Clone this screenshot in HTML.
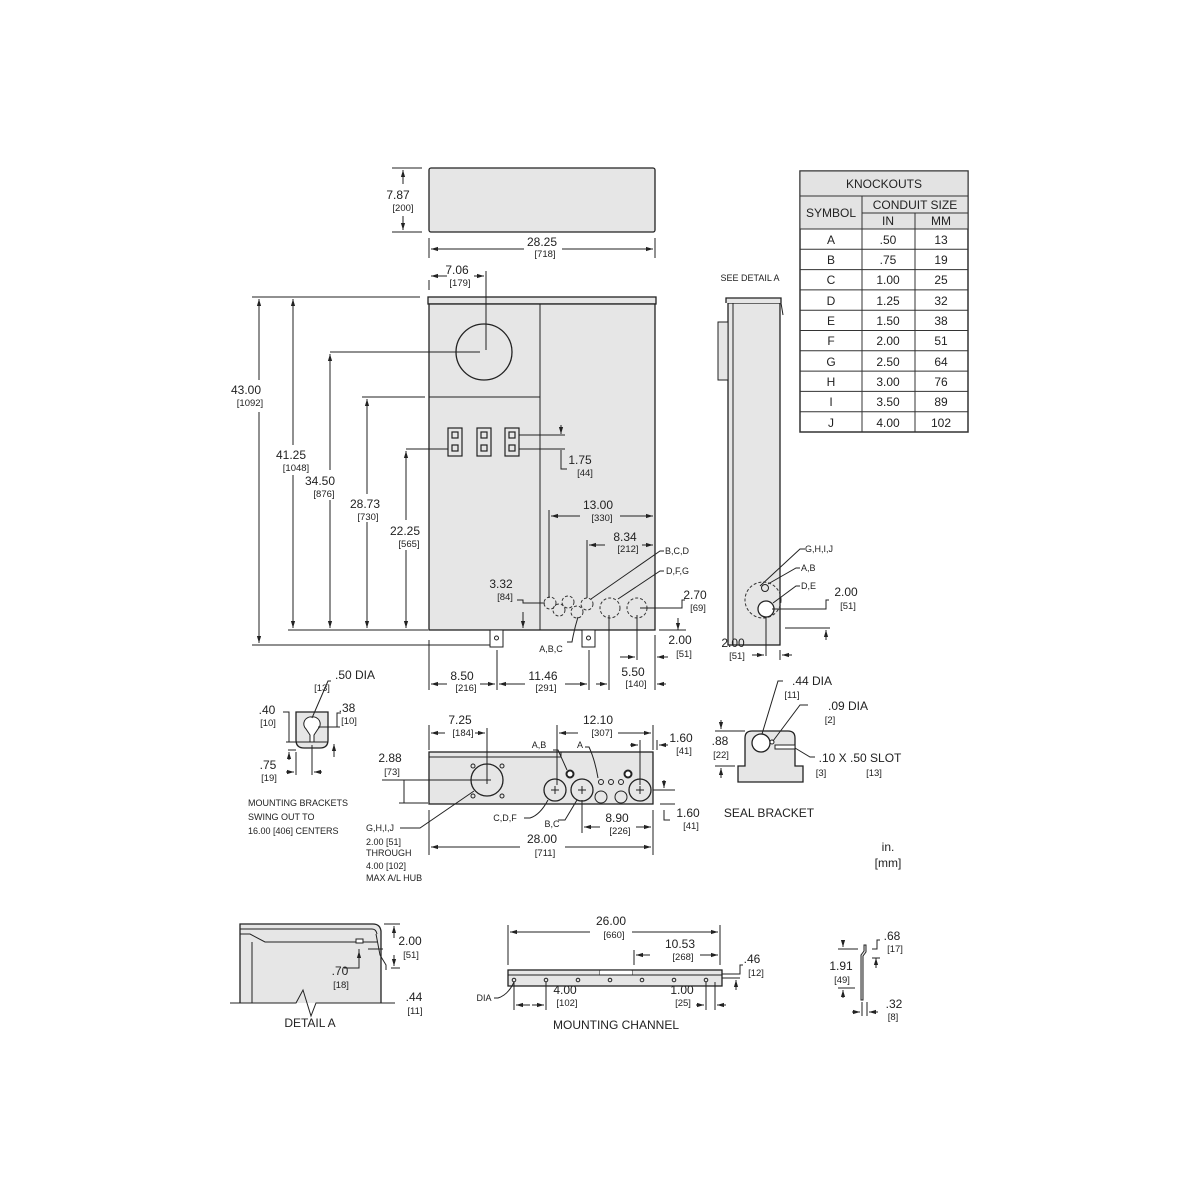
<!DOCTYPE html>
<html><head><meta charset="utf-8"><style>
html,body{margin:0;padding:0;background:#fff}
svg{display:block}
text{font-family:"Liberation Sans",sans-serif;fill:#222}
.d{font-size:12px}.m{font-size:9.5px}.s{font-size:9px}
.l{stroke:#222;stroke-width:1;fill:none}
.f{fill:#e6e6e6;stroke:#222;stroke-width:1.3}
.dash{fill:none;stroke:#333;stroke-width:1;stroke-dasharray:3,2}
</style></head><body>
<svg width="1200" height="1200" viewBox="0 0 1200 1200" xmlns="http://www.w3.org/2000/svg">
<defs>
<marker id="a" viewBox="0 0 10 10" refX="10" refY="5" markerWidth="7" markerHeight="7" orient="auto-start-reverse"><path d="M0,2 L10,5 L0,8z" fill="#222"/></marker>
</defs>
<g text-anchor="middle">

<!-- TOP VIEW -->
<rect class="f" x="429" y="168" width="226" height="64" rx="2"/>
<path class="l" d="M392,168H422M392,232H422"/>
<line class="l" x1="403" y1="170" x2="403" y2="184" marker-start="url(#a)"/>
<line class="l" x1="403" y1="216" x2="403" y2="230" marker-end="url(#a)"/>
<text class="d" x="398" y="199">7.87</text><text class="m" x="403" y="211">[200]</text>
<path class="l" d="M429,238V258M655,238V258"/>
<line class="l" x1="524" y1="249" x2="431" y2="249" marker-end="url(#a)"/>
<line class="l" x1="562" y1="249" x2="653" y2="249" marker-end="url(#a)"/>
<text class="d" x="542" y="246">28.25</text><text class="m" x="545" y="257">[718]</text>

<!-- FRONT VIEW -->
<rect class="f" x="428" y="297" width="228" height="7"/>
<rect class="f" x="429" y="304" width="226" height="326"/>
<path class="l" d="M540,304V630M429,397H540"/>
<circle cx="484" cy="352" r="28" fill="none" stroke="#222" stroke-width="1.3"/>
<path class="l" d="M486,271V350M330,352H480"/>
<line class="l" x1="447" y1="276" x2="431" y2="276" marker-end="url(#a)"/>
<line class="l" x1="474" y1="276" x2="484" y2="276" marker-end="url(#a)"/>
<path class="l" d="M429,280V290"/>
<text class="d" x="457" y="274">7.06</text><text class="m" x="460" y="286">[179]</text>
<g fill="none" stroke="#222" stroke-width="1.2">
<rect x="448" y="428" width="14" height="28"/><rect x="477" y="428" width="14" height="28"/><rect x="505" y="428" width="14" height="28"/>
<rect x="452" y="432" width="6" height="6"/><rect x="452" y="445" width="6" height="6"/>
<rect x="481" y="432" width="6" height="6"/><rect x="481" y="445" width="6" height="6"/>
<rect x="509" y="432" width="6" height="6"/><rect x="509" y="445" width="6" height="6"/>
</g>
<path class="l" d="M519,435H565M519,449H565M406,449H448"/>
<line class="l" x1="561" y1="425" x2="561" y2="434" marker-end="url(#a)"/>
<path class="l" d="M561,450V469H567"/>
<text class="d" x="580" y="464">1.75</text><text class="m" x="585" y="476">[44]</text>
<path class="l" d="M252,297H420M252,645H492M288,630H428M362,397H425"/>
<line class="l" x1="259" y1="380" x2="259" y2="299" marker-end="url(#a)"/>
<line class="l" x1="259" y1="412" x2="259" y2="643" marker-end="url(#a)"/>
<text class="d" x="246" y="394">43.00</text><text class="m" x="250" y="406">[1092]</text>
<line class="l" x1="293" y1="445" x2="293" y2="299" marker-end="url(#a)"/>
<line class="l" x1="293" y1="475" x2="293" y2="628" marker-end="url(#a)"/>
<text class="d" x="291" y="459">41.25</text><text class="m" x="296" y="471">[1048]</text>
<line class="l" x1="330" y1="470" x2="330" y2="354" marker-end="url(#a)"/>
<line class="l" x1="330" y1="500" x2="330" y2="628" marker-end="url(#a)"/>
<text class="d" x="320" y="485">34.50</text><text class="m" x="324" y="497">[876]</text>
<line class="l" x1="367" y1="494" x2="367" y2="399" marker-end="url(#a)"/>
<line class="l" x1="367" y1="522" x2="367" y2="628" marker-end="url(#a)"/>
<text class="d" x="365" y="508">28.73</text><text class="m" x="368" y="520">[730]</text>
<line class="l" x1="406" y1="520" x2="406" y2="451" marker-end="url(#a)"/>
<line class="l" x1="406" y1="550" x2="406" y2="628" marker-end="url(#a)"/>
<text class="d" x="405" y="535">22.25</text><text class="m" x="409" y="547">[565]</text>
<circle class="dash" cx="550" cy="603" r="6"/><circle class="dash" cx="559" cy="610" r="6"/>
<circle class="dash" cx="568" cy="602" r="6"/><circle class="dash" cx="577" cy="612" r="6"/>
<circle class="dash" cx="587" cy="604" r="6"/><circle class="dash" cx="610" cy="608" r="10"/>
<circle class="dash" cx="637" cy="608" r="10"/>
<path class="l" d="M549,510V598M587,540V598"/>
<line class="l" x1="580" y1="516" x2="551" y2="516" marker-end="url(#a)"/>
<line class="l" x1="620" y1="516" x2="653" y2="516" marker-end="url(#a)"/>
<text class="d" x="598" y="509">13.00</text><text class="m" x="602" y="521">[330]</text>
<line class="l" x1="605" y1="545" x2="589" y2="545" marker-end="url(#a)"/>
<line class="l" x1="642" y1="545" x2="653" y2="545" marker-end="url(#a)"/>
<text class="d" x="625" y="541">8.34</text><text class="m" x="628" y="552">[212]</text>
<path class="l" d="M591,599L660,551H664M618,599L660,571H664"/>
<text class="s" x="665" y="554" text-anchor="start">B,C,D</text>
<text class="s" x="666" y="574" text-anchor="start">D,F,G</text>
<path class="l" d="M578,617Q574,630 572,642H567"/>
<text class="s" x="551" y="652">A,B,C</text>
<path class="l" d="M517,600H523V603H545"/>
<line class="l" x1="523" y1="612" x2="523" y2="628" marker-end="url(#a)"/>
<text class="d" x="501" y="588">3.32</text><text class="m" x="505" y="600">[84]</text>
<path class="l" d="M640,608H682V600H685M659,630H686"/>
<line class="l" x1="678" y1="618" x2="678" y2="630" marker-end="url(#a)"/>
<text class="d" x="695" y="599">2.70</text><text class="m" x="698" y="611">[69]</text>
<rect x="490" y="630" width="13" height="17" fill="#fff" stroke="#222"/><circle cx="496.5" cy="638" r="2" fill="none" stroke="#222"/>
<rect x="582" y="630" width="13" height="17" fill="#fff" stroke="#222"/><circle cx="588.5" cy="638" r="2" fill="none" stroke="#222"/>
<path class="l" d="M429,640V690M497,650V690M589,650V690M609,615V690M637,615V660M655,635V690"/>
<line class="l" x1="620" y1="657" x2="635" y2="657" marker-end="url(#a)"/>
<line class="l" x1="668" y1="657" x2="657" y2="657" marker-end="url(#a)"/>
<text class="d" x="680" y="644">2.00</text><text class="m" x="684" y="657">[51]</text>
<line class="l" x1="447" y1="684" x2="431" y2="684" marker-end="url(#a)"/>
<line class="l" x1="480" y1="684" x2="495" y2="684" marker-end="url(#a)"/>
<text class="d" x="462" y="680">8.50</text><text class="m" x="466" y="691">[216]</text>
<line class="l" x1="525" y1="684" x2="499" y2="684" marker-end="url(#a)"/>
<line class="l" x1="565" y1="684" x2="587" y2="684" marker-end="url(#a)"/>
<text class="d" x="543" y="680">11.46</text><text class="m" x="546" y="691">[291]</text>
<line class="l" x1="596" y1="684" x2="607" y2="684" marker-end="url(#a)"/>
<line class="l" x1="666" y1="684" x2="657" y2="684" marker-end="url(#a)"/>
<text class="d" x="633" y="676">5.50</text><text class="m" x="636" y="687">[140]</text>

<!-- SIDE VIEW -->
<text class="s" x="750" y="281">SEE DETAIL A</text>
<rect class="f" x="728" y="303" width="52" height="342"/>
<path class="l" d="M733,303V645"/>
<path d="M726,303V298H781V303" fill="#e6e6e6" stroke="#222" stroke-width="1.3"/>
<path class="l" d="M781,303L783,315"/>
<rect x="718" y="322" width="10" height="58" fill="#e6e6e6" stroke="#222"/>
<circle class="dash" cx="763" cy="600" r="18"/>
<circle cx="765" cy="588" r="3.5" fill="none" stroke="#222"/>
<circle cx="766" cy="609" r="8" fill="#fff" stroke="#222" stroke-width="1.3"/>
<path class="l" d="M760,586L800,549H805M768,584L796,568H800M773,603L796,586H800"/>
<text class="s" x="805" y="552" text-anchor="start">G,H,I,J</text>
<text class="s" x="801" y="571" text-anchor="start">A,B</text>
<text class="s" x="801" y="589" text-anchor="start">D,E</text>
<path class="l" d="M772,609H826V600H829M785,628H830"/>
<line class="l" x1="826" y1="640" x2="826" y2="630" marker-end="url(#a)"/>
<text class="d" x="846" y="596">2.00</text><text class="m" x="848" y="609">[51]</text>
<path class="l" d="M766,617V656M780,650V660"/>
<line class="l" x1="752" y1="655" x2="764" y2="655" marker-end="url(#a)"/>
<line class="l" x1="792" y1="655" x2="782" y2="655" marker-end="url(#a)"/>
<text class="d" x="733" y="647">2.00</text><text class="m" x="737" y="659">[51]</text>

<!-- TABLE -->
<g stroke="#333" stroke-width="1">
<rect x="800" y="171" width="168" height="261" fill="#fff" stroke-width="1.5"/>
<rect x="800" y="171" width="168" height="25" fill="#e3e3e3"/>
<rect x="800" y="196" width="62" height="33" fill="#e3e3e3"/>
<rect x="862" y="196" width="106" height="17" fill="#e3e3e3"/>
<rect x="862" y="213" width="106" height="16" fill="#e3e3e3"/>
<path d="M915,213V432M862,229V432M800,249.3H968M800,269.6H968M800,289.9H968M800,310.2H968M800,330.5H968M800,350.8H968M800,371.1H968M800,391.4H968M800,411.7H968" fill="none"/>
</g>
<text class="d" x="884" y="188">KNOCKOUTS</text>
<text class="d" x="831" y="217">SYMBOL</text>
<text class="d" x="915" y="209">CONDUIT  SIZE</text>
<text class="d" x="888" y="225">IN</text><text class="d" x="941" y="225">MM</text>
<g class="d">
<text x="831" y="244">A</text><text x="888" y="244">.50</text><text x="941" y="244">13</text>
<text x="831" y="264">B</text><text x="888" y="264">.75</text><text x="941" y="264">19</text>
<text x="831" y="284">C</text><text x="888" y="284">1.00</text><text x="941" y="284">25</text>
<text x="831" y="305">D</text><text x="888" y="305">1.25</text><text x="941" y="305">32</text>
<text x="831" y="325">E</text><text x="888" y="325">1.50</text><text x="941" y="325">38</text>
<text x="831" y="345">F</text><text x="888" y="345">2.00</text><text x="941" y="345">51</text>
<text x="831" y="366">G</text><text x="888" y="366">2.50</text><text x="941" y="366">64</text>
<text x="831" y="386">H</text><text x="888" y="386">3.00</text><text x="941" y="386">76</text>
<text x="831" y="406">I</text><text x="888" y="406">3.50</text><text x="941" y="406">89</text>
<text x="831" y="427">J</text><text x="888" y="427">4.00</text><text x="941" y="427">102</text>
</g>

<!-- KEYHOLE BRACKET -->
<path class="f" d="M296,712H328V740Q328,748 320,748H304Q296,748 296,740Z"/>
<path d="M312,717A7,7 0 0 1 318,729L314,735V742H310V735L306,729A7,7 0 0 1 312,717Z" fill="#fff" stroke="#222"/>
<path class="l" d="M312,718L328,681H331"/>
<text class="d" x="355" y="679">.50  DIA</text><text class="m" x="322" y="691">[13]</text>
<path class="l" d="M283,712H289V742M286,742H328M288,750H296"/>
<line class="l" x1="289" y1="760" x2="289" y2="752" marker-end="url(#a)"/>
<text class="d" x="267" y="714">.40</text><text class="m" x="268" y="726">[10]</text>
<path class="l" d="M341,713H337V727M318,727H340"/>
<line class="l" x1="334" y1="757" x2="334" y2="744" marker-end="url(#a)"/>
<text class="d" x="347" y="712">.38</text><text class="m" x="349" y="724">[10]</text>
<path class="l" d="M296,752V775M312,745V775"/>
<line class="l" x1="286" y1="772" x2="294" y2="772" marker-end="url(#a)"/>
<line class="l" x1="322" y1="772" x2="314" y2="772" marker-end="url(#a)"/>
<text class="d" x="268" y="769">.75</text><text class="m" x="269" y="781">[19]</text>
<g class="s" text-anchor="start">
<text x="248" y="806">MOUNTING BRACKETS</text><text x="248" y="820">SWING OUT TO</text><text x="248" y="834">16.00 [406] CENTERS</text>
</g>

<!-- BOTTOM VIEW -->
<rect class="f" x="429" y="752" width="224" height="52"/>
<path class="l" d="M429,757H561V752"/>
<circle cx="487" cy="780" r="16" fill="none" stroke="#222" stroke-width="1.3"/>
<path class="l" d="M483,780H491M487,776V784"/>
<g fill="none" stroke="#222"><circle cx="473" cy="766" r="2"/><circle cx="502" cy="766" r="2"/><circle cx="473" cy="796" r="2"/><circle cx="502" cy="796" r="2"/>
<circle cx="555" cy="790" r="11" stroke-width="1.3"/><circle cx="582" cy="790" r="11" stroke-width="1.3"/><circle cx="640" cy="790" r="11" stroke-width="1.3"/>
<circle cx="601" cy="782" r="2.5"/><circle cx="611" cy="782" r="2.5"/><circle cx="621" cy="782" r="2.5"/>
<circle cx="601" cy="797" r="6"/><circle cx="621" cy="797" r="6"/></g>
<path class="l" d="M551,790H559M555,786V794M578,790H586M582,786V794M636,790H644M640,786V794"/>
<circle cx="570" cy="774" r="3.5" fill="#fff" stroke="#222" stroke-width="2"/>
<circle cx="628" cy="774" r="3.5" fill="#fff" stroke="#222" stroke-width="2"/>
<path class="l" d="M429,725V750M487,728V780M557,725V785M653,725V750M640,740V785M657,740V750"/>
<line class="l" x1="445" y1="733" x2="431" y2="733" marker-end="url(#a)"/>
<line class="l" x1="475" y1="733" x2="485" y2="733" marker-end="url(#a)"/>
<text class="d" x="460" y="724">7.25</text><text class="m" x="463" y="736">[184]</text>
<line class="l" x1="578" y1="733" x2="559" y2="733" marker-end="url(#a)"/>
<line class="l" x1="618" y1="733" x2="651" y2="733" marker-end="url(#a)"/>
<text class="d" x="598" y="724">12.10</text><text class="m" x="602" y="736">[307]</text>
<line class="l" x1="630" y1="745" x2="638" y2="745" marker-end="url(#a)"/>
<line class="l" x1="668" y1="745" x2="659" y2="745" marker-end="url(#a)"/>
<text class="d" x="681" y="742">1.60</text><text class="m" x="684" y="754">[41]</text>
<path class="l" d="M567,770L558,750H553M598,778Q595,760 589,747H585"/>
<text class="s" x="539" y="748">A,B</text><text class="s" x="580" y="748">A</text>
<path class="l" d="M382,780H485M398,780H404V803M399,803H428"/>
<text class="d" x="390" y="762">2.88</text><text class="m" x="392" y="775">[73]</text>
<path class="l" d="M548,800Q540,815 530,818H524M577,800L565,820H558M474,791L420,828H400"/>
<text class="s" x="505" y="821">C,D,F</text><text class="s" x="552" y="827">B,C</text>
<path class="l" d="M653,790H675M660,804H675M664,810V820H670"/>
<line class="l" x1="664" y1="780" x2="664" y2="788" marker-end="url(#a)"/>
<text class="d" x="688" y="817">1.60</text><text class="m" x="691" y="829">[41]</text>
<path class="l" d="M582,800V833M653,810V855M429,810V855"/>
<line class="l" x1="600" y1="827" x2="584" y2="827" marker-end="url(#a)"/>
<line class="l" x1="636" y1="827" x2="651" y2="827" marker-end="url(#a)"/>
<text class="d" x="617" y="822">8.90</text><text class="m" x="620" y="834">[226]</text>
<line class="l" x1="520" y1="847" x2="431" y2="847" marker-end="url(#a)"/>
<line class="l" x1="565" y1="847" x2="651" y2="847" marker-end="url(#a)"/>
<text class="d" x="542" y="843">28.00</text><text class="m" x="545" y="856">[711]</text>
<g class="s" text-anchor="start">
<text x="366" y="831">G,H,I,J</text><text x="366" y="845">2.00 [51]</text><text x="366" y="856">THROUGH</text><text x="366" y="869">4.00 [102]</text><text x="366" y="881">MAX A/L HUB</text>
</g>

<!-- SEAL BRACKET -->
<path class="f" d="M745,766V738Q745,731 752,731H788Q795,731 795,738V766H803V782H738V766Z"/>
<circle cx="761" cy="743" r="9" fill="#fff" stroke="#222" stroke-width="1.3"/>
<circle cx="772" cy="742" r="2" fill="#fff" stroke="#222"/>
<path d="M775,745H795V749H775Z" fill="#fff" stroke="#222"/>
<path class="l" d="M762,734L778,681H783M773,741L800,705H808M795,748L810,757H815"/>
<text class="d" x="812" y="685">.44  DIA</text><text class="m" x="792" y="698">[11]</text>
<text class="d" x="848" y="710">.09  DIA</text><text class="m" x="830" y="723">[2]</text>
<text class="d" x="860" y="762">.10  X  .50  SLOT</text><text class="m" x="821" y="776">[3]</text><text class="m" x="874" y="776">[13]</text>
<path class="l" d="M715,731H745M715,766H735"/>
<line class="l" x1="721" y1="720" x2="721" y2="729" marker-end="url(#a)"/>
<line class="l" x1="721" y1="778" x2="721" y2="768" marker-end="url(#a)"/>
<text class="d" x="720" y="745">.88</text><text class="m" x="721" y="758">[22]</text>
<text class="d" x="769" y="817">SEAL  BRACKET</text>
<text x="888" y="851" style="font-size:12px">in.</text>
<text x="888" y="867" style="font-size:12px">[mm]</text>

<!-- DETAIL A -->
<path d="M240,1003V924H373Q380,924 381,931V1003" fill="#e6e6e6" stroke="#222" stroke-width="1.3"/>
<path class="l" d="M240,929H372Q376,929 377,934M240,934H250L265,942H378M252,942V1003"/>
<rect x="356" y="939" width="7" height="4" fill="#fff" stroke="#222"/>
<path class="l" d="M376,934L380,955L386,965V970" stroke-width="1.5"/>
<path class="l" d="M230,1003H296L303,990L311,1016L316,1003H395"/>
<path class="l" d="M384,924H400M368,949H383M391,968H400"/>
<line class="l" x1="394" y1="938" x2="394" y2="926" marker-end="url(#a)"/>
<line class="l" x1="394" y1="955" x2="394" y2="966" marker-end="url(#a)"/>
<text class="d" x="410" y="945">2.00</text><text class="m" x="411" y="958">[51]</text>
<path class="l" d="M359,949V968H344"/>
<line class="l" x1="359" y1="960" x2="359" y2="951" marker-end="url(#a)"/>
<text class="d" x="340" y="975">.70</text><text class="m" x="341" y="988">[18]</text>
<text class="d" x="414" y="1001">.44</text><text class="m" x="415" y="1014">[11]</text>
<text class="d" x="310" y="1027">DETAIL  A</text>

<!-- MOUNTING CHANNEL -->
<rect class="f" x="508" y="970" width="214" height="16"/>
<path class="l" d="M508,975H722M600,970V975M632,970V975"/>
<path d="M600,970.7H632V974.5H600Z" fill="#fff"/>
<g fill="none" stroke="#222"><circle cx="514" cy="980" r="1.8"/><circle cx="546" cy="980" r="1.8"/><circle cx="578" cy="980" r="1.8"/><circle cx="610" cy="980" r="1.8"/><circle cx="642" cy="980" r="1.8"/><circle cx="674" cy="980" r="1.8"/><circle cx="706" cy="980" r="1.8"/></g>
<path class="l" d="M508,925V965M720,925V965M634,950V965"/>
<line class="l" x1="590" y1="932" x2="510" y2="932" marker-end="url(#a)"/>
<line class="l" x1="632" y1="932" x2="718" y2="932" marker-end="url(#a)"/>
<text class="d" x="611" y="925">26.00</text><text class="m" x="614" y="938">[660]</text>
<line class="l" x1="650" y1="955" x2="636" y2="955" marker-end="url(#a)"/>
<line class="l" x1="700" y1="955" x2="718" y2="955" marker-end="url(#a)"/>
<text class="d" x="680" y="948">10.53</text><text class="m" x="683" y="960">[268]</text>
<path class="l" d="M514,982V1010M546,982V1010M706,982V1010M715,982V1010"/>
<line class="l" x1="530" y1="1005" x2="516" y2="1005" marker-end="url(#a)"/>
<line class="l" x1="532" y1="1005" x2="544" y2="1005" marker-end="url(#a)"/>
<line class="l" x1="696" y1="1005" x2="704" y2="1005" marker-end="url(#a)"/>
<line class="l" x1="726" y1="1005" x2="717" y2="1005" marker-end="url(#a)"/>
<text class="d" x="565" y="994">4.00</text><text class="m" x="567" y="1006">[102]</text>
<text class="d" x="682" y="994">1.00</text><text class="m" x="683" y="1006">[25]</text>
<path class="l" d="M514,982Q508,995 498,998H494"/>
<text class="s" x="484" y="1001">DIA</text>
<path class="l" d="M722,974H740V965H743M722,978H740"/>
<line class="l" x1="736" y1="990" x2="736" y2="980" marker-end="url(#a)"/>
<text class="d" x="752" y="963">.46</text><text class="m" x="756" y="976">[12]</text>
<text class="d" x="616" y="1029">MOUNTING  CHANNEL</text>

<!-- SMALL CHANNEL -->
<path d="M866,945V952L863,956V1000H861V955L864,951V945Z" fill="#e6e6e6" stroke="#222"/>
<path class="l" d="M838,949H858M838,988H855M872,949H877V940H880"/>
<line class="l" x1="843" y1="940" x2="843" y2="947" marker-end="url(#a)"/>
<line class="l" x1="843" y1="998" x2="843" y2="990" marker-end="url(#a)"/>
<line class="l" x1="876" y1="968" x2="876" y2="958" marker-end="url(#a)"/>
<path class="l" d="M872,958H880"/>
<text class="d" x="892" y="940">.68</text><text class="m" x="895" y="952">[17]</text>
<text class="d" x="841" y="970">1.91</text><text class="m" x="842" y="983">[49]</text>
<path class="l" d="M862,1002V1016M867,1002V1016"/>
<line class="l" x1="852" y1="1012" x2="860" y2="1012" marker-end="url(#a)"/>
<line class="l" x1="878" y1="1012" x2="869" y2="1012" marker-end="url(#a)"/>
<text class="d" x="894" y="1008">.32</text><text class="m" x="893" y="1020">[8]</text>
</g>
</svg>
</body></html>
